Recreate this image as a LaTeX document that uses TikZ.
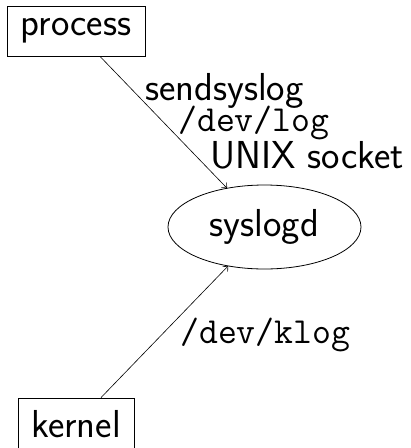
\documentclass[tikz,border=0pt]{standalone}
\usetikzlibrary{shapes.geometric,arrows.meta}
\begin{document}
\begin{tikzpicture}[x=1pt,y=-1pt,
  lbl/.style={font=\sffamily\fontsize{39}{44}\selectfont, inner sep=0pt},
  monolbl/.style={font=\ttfamily\fontsize{36.7}{42}\selectfont, inner sep=0pt},
  boxnode/.style={draw, line width=0.8pt, inner sep=0pt, font=\sffamily\fontsize{39}{44}\selectfont},
  conn/.style={-{Straight Barb[length=4pt,width=7pt]}, line width=0.6pt}]
\useasboundingbox (0,0) rectangle (411,448);
\node[boxnode, minimum width=138pt, minimum height=50pt] (process) at (76,31) {process};
\node[boxnode, minimum width=116pt, minimum height=52pt] (kernel) at (76,424) {kernel};
\node[boxnode, ellipse, minimum width=193pt, minimum height=84pt, outer sep=0pt] (syslogd) at (264.5,227) {syslogd};
\draw[conn] ([xshift=24pt]process.south) -- (syslogd.134);
\draw[conn] ([xshift=25pt]kernel.north) -- (syslogd.227);
\node[lbl, anchor=base west] (l1) at (145,100) {sendsyslog};
\node[monolbl, anchor=base west] (l2) at (178,131) {/dev/log};
\node[lbl, anchor=base west] (l3) at (210,168) {UNIX socket};
\node[monolbl, anchor=base west] (l4) at (180,343) {/dev/klog};
\end{tikzpicture}
\end{document}
